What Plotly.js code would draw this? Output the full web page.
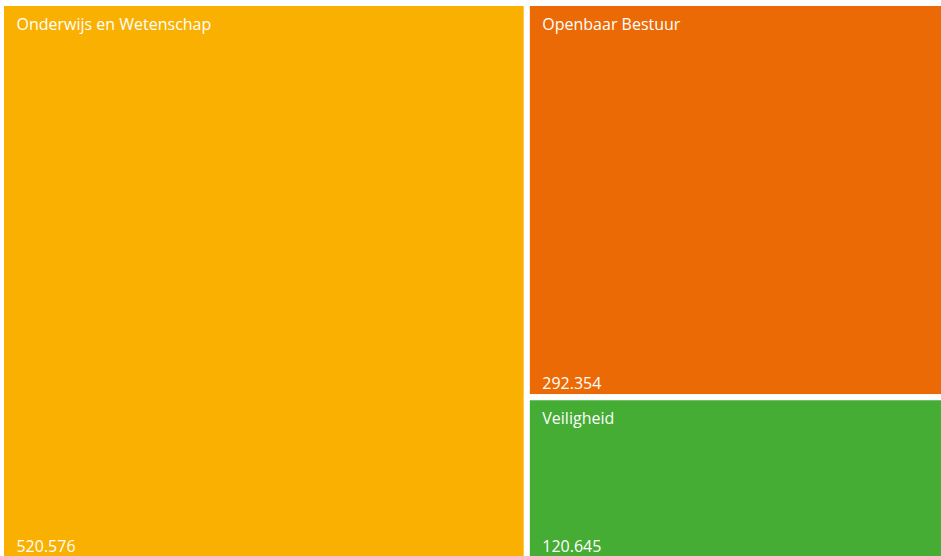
<!DOCTYPE html>
<html>
<head>
<meta charset="utf-8">
<script src="https://cdn.plot.ly/plotly-3.0.1.min.js"></script>
<style>
html,body{margin:0;padding:0;overflow:hidden;background:#fff;}
#chart{width:944px;height:560px;}
</style>
</head>
<body>
<div id="chart"></div>
<script>
// Data
var categories = ["Onderwijs en Wetenschap", "Openbaar Bestuur", "Veiligheid"];
var values = [520576, 292354, 120645];
var colors = ["#F9B000", "#EC6A06", "#45AC34"];

var parents = categories.map(function(){ return ""; });
var indent = "\u00A0\u00A0\u00A0";

var common = {
  type: "treemap",
  labels: categories,
  parents: parents,
  values: values,
  sort: false,
  tiling: {packing: "squarify", pad: 0},
  pathbar: {visible: false},
  hoverinfo: "skip",
  domain: {x: [0, 1], y: [0, 1]}
};

var labelTrace = Object.assign({}, common, {
  marker: {colors: colors, line: {color: "#ffffff", width: 6}, pad: {t: 0, l: 0, r: 0, b: 0}},
  texttemplate: "<span style='font-size:10px'>\u00A0</span><br><span style='font-size:16px'>" + indent + "%{label}</span>",
  textposition: "top left",
  textfont: {family: "Open Sans", size: 10, color: "#ffffff"}
});

var valueTrace = Object.assign({}, common, {
  marker: {colors: categories.map(function(){return "rgba(0,0,0,0)";}), line: {color: "rgba(0,0,0,0)", width: 6}, pad: {t: 0, l: 0, r: 0, b: 0}},
  texttemplate: indent + "%{value:,}",
  textposition: "bottom left",
  textfont: {family: "Open Sans", size: 16, color: "#ffffff"}
});

var layout = {
  width: 944,
  height: 560,
  margin: {l: 1, r: 0, t: 3, b: 0},
  separators: ",.",
  paper_bgcolor: "#ffffff",
  showlegend: false
};

Plotly.newPlot("chart", [labelTrace, valueTrace], layout, {displayModeBar: false, staticPlot: true});
</script>
</body>
</html>
